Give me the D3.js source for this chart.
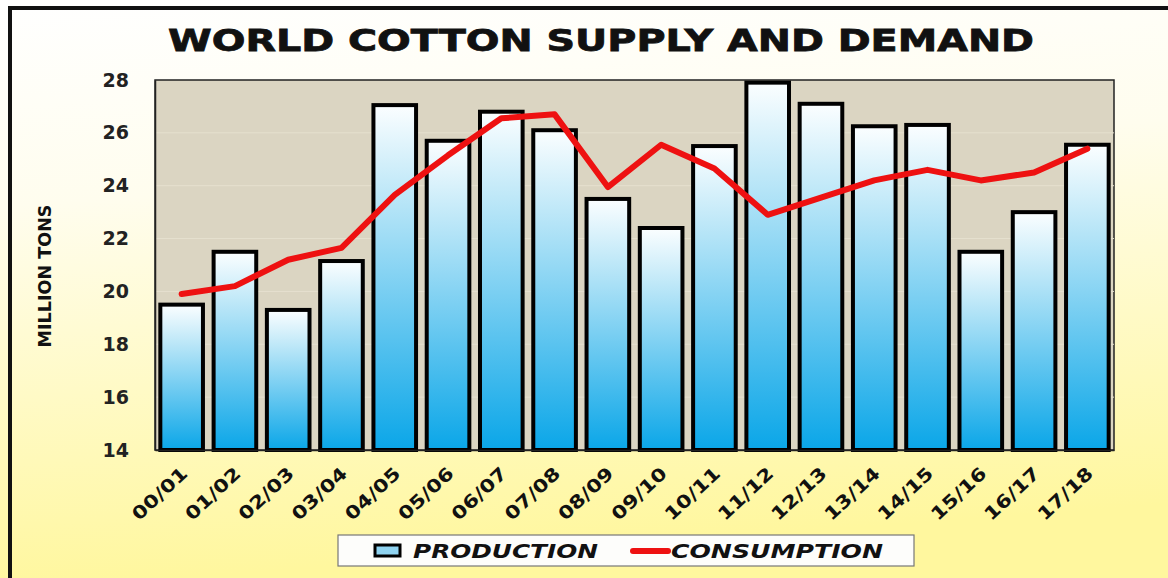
<!DOCTYPE html>
<html>
<head>
<meta charset="utf-8">
<script src="https://cdn.jsdelivr.net/npm/d3@7"></script>
<style>
  html, body { margin: 0; padding: 0; background: #fff; }
  svg { display: block; }
</style>
</head>
<body>
<div id="chart"></div>
<script>
const seasons = ['00/01', '01/02', '02/03', '03/04', '04/05', '05/06', '06/07', '07/08', '08/09',
  '09/10', '10/11', '11/12', '12/13', '13/14', '14/15', '15/16', '16/17', '17/18'];
const production = [19.5, 21.5, 19.3, 21.15, 27.05, 25.7, 26.8, 26.1, 23.5,
  22.4, 25.5, 27.9, 27.1, 26.25, 26.3, 21.5, 23.0, 25.55];
const consumption = [19.9, 20.2, 21.2, 21.65, 23.65, 25.15, 26.55, 26.7, 23.95,
  25.55, 24.65, 22.9, 23.55, 24.2, 24.6, 24.2, 24.5, 25.4];
const yTicks = [14, 16, 18, 20, 22, 24, 26, 28];

const width = 1168, height = 578;
const margin = {top: 80, right: 54, bottom: 128, left: 155};
const fontBold = 'DejaVu Sans, Verdana, sans-serif';

const svg = d3.select('#chart').append('svg')
  .attr('width', width)
  .attr('height', height);

const defs = svg.append('defs');

// page background: white at top fading into pale yellow
let bg = defs.append('linearGradient')
  .attr('id', 'bgGrad')
  .attr('x1', 0).attr('y1', 0).attr('x2', 0.15).attr('y2', 1);
bg.append('stop').attr('offset', '0%').attr('stop-color', '#ffffff');
bg.append('stop').attr('offset', '35%').attr('stop-color', '#fffdee');
bg.append('stop').attr('offset', '100%').attr('stop-color', '#fff79e');

let barGrad = defs.append('linearGradient')
  .attr('id', 'barGrad')
  .attr('x1', 0).attr('y1', 0).attr('x2', 0).attr('y2', 1);
barGrad.append('stop').attr('offset', '0%').attr('stop-color', '#fbfeff');
barGrad.append('stop').attr('offset', '25%').attr('stop-color', '#bfe8f8');
barGrad.append('stop').attr('offset', '100%').attr('stop-color', '#0aa6e8');

svg.append('rect')
  .attr('width', width).attr('height', height)
  .attr('fill', 'url(#bgGrad)');

// outer frame (only top and left visible in the picture)
svg.append('rect')
  .attr('x', 10).attr('y', 8)
  .attr('width', 1200).attr('height', 620)
  .attr('fill', 'none')
  .attr('stroke', '#111')
  .attr('stroke-width', 4);

const x = d3.scaleBand()
  .domain(seasons)
  .range([margin.left, width - margin.right])
  .paddingInner(0.2)
  .paddingOuter(0.1);

const y = d3.scaleLinear()
  .domain([14, 28])
  .range([height - margin.bottom, margin.top]);

const plotW = width - margin.right - margin.left;
const plotH = height - margin.bottom - margin.top;

// plot area
svg.append('rect')
  .attr('x', margin.left).attr('y', margin.top)
  .attr('width', plotW).attr('height', plotH)
  .attr('fill', '#dbd5c2')
  .attr('stroke', '#222')
  .attr('stroke-width', 1.5);

// faint gridlines
svg.append('g')
  .selectAll('line')
  .data(yTicks.slice(1, -1))
  .join('line')
  .attr('x1', margin.left).attr('x2', margin.left + plotW)
  .attr('y1', d => y(d)).attr('y2', d => y(d))
  .attr('stroke', '#e6e0cf')
  .attr('stroke-width', 1);

// bars
svg.append('g')
  .selectAll('rect')
  .data(production)
  .join('rect')
  .attr('x', (d, i) => x(seasons[i]))
  .attr('y', d => y(d))
  .attr('width', x.bandwidth())
  .attr('height', d => y(14) - y(d))
  .attr('fill', 'url(#barGrad)')
  .attr('stroke', '#000')
  .attr('stroke-width', 4);

// consumption line
let line = d3.line()
  .x((d, i) => x(seasons[i]) + x.bandwidth() / 2)
  .y(d => y(d));

svg.append('path')
  .datum(consumption)
  .attr('d', line)
  .attr('fill', 'none')
  .attr('stroke', '#ee1111')
  .attr('stroke-width', 6)
  .attr('stroke-linejoin', 'round')
  .attr('stroke-linecap', 'round');

// y axis
let yAxis = svg.append('g')
  .attr('transform', 'translate(' + margin.left + ',0)')
  .call(d3.axisLeft(y).tickValues(yTicks).tickSize(0).tickPadding(26));
yAxis.select('.domain').attr('stroke', '#222').attr('stroke-width', 1.5);
yAxis.selectAll('text')
  .attr('font-family', fontBold)
  .attr('font-weight', 'bold')
  .attr('font-size', 19)
  .attr('fill', '#222');

// x axis
let xAxis = svg.append('g')
  .attr('transform', 'translate(0,' + (height - margin.bottom) + ')')
  .call(d3.axisBottom(x).tickSize(0).tickPadding(0));
xAxis.select('.domain').attr('stroke', '#222').attr('stroke-width', 1.5);
xAxis.selectAll('text')
  .attr('font-family', fontBold)
  .attr('font-weight', 'bold')
  .attr('font-size', 18)
  .attr('textLength', 68)
  .attr('lengthAdjust', 'spacingAndGlyphs')
  .attr('fill', '#111')
  .attr('text-anchor', 'end')
  .attr('y', 0)
  .attr('dy', 0)
  .attr('transform', 'translate(7,25) rotate(-43)');

// y title
svg.append('text')
  .attr('transform', 'translate(51,276) rotate(-90)')
  .attr('text-anchor', 'middle')
  .attr('font-family', fontBold)
  .attr('font-weight', 'bold')
  .attr('font-size', 17)
  .attr('textLength', 143)
  .attr('lengthAdjust', 'spacingAndGlyphs')
  .attr('fill', '#111')
  .text('MILLION TONS');

// title
svg.append('text')
  .attr('x', 168).attr('y', 51)
  .attr('textLength', 866)
  .attr('lengthAdjust', 'spacingAndGlyphs')
  .attr('font-family', 'DejaVu Sans, sans-serif')
  .attr('font-weight', 'bold')
  .attr('font-size', 31)
  .attr('fill', '#111')
  .attr('stroke', '#111')
  .attr('stroke-width', 0.8)
  .text('WORLD COTTON SUPPLY AND DEMAND');

// legend
let legend = svg.append('g');
legend.append('rect')
  .attr('x', 338).attr('y', 535)
  .attr('width', 576).attr('height', 31)
  .attr('fill', '#fdfdfb')
  .attr('stroke', '#777')
  .attr('stroke-width', 1.2);
legend.append('rect')
  .attr('x', 375).attr('y', 545)
  .attr('width', 25).attr('height', 11)
  .attr('fill', '#8fd3f0')
  .attr('stroke', '#000')
  .attr('stroke-width', 3);
legend.append('text')
  .attr('x', 413).attr('y', 558)
  .attr('font-family', fontBold)
  .attr('font-weight', 'bold')
  .attr('font-style', 'italic')
  .attr('font-size', 20)
  .attr('textLength', 185)
  .attr('lengthAdjust', 'spacingAndGlyphs')
  .attr('fill', '#111')
  .text('PRODUCTION');
legend.append('line')
  .attr('x1', 633).attr('x2', 668)
  .attr('y1', 551).attr('y2', 551)
  .attr('stroke', '#ee1111')
  .attr('stroke-width', 6)
  .attr('stroke-linecap', 'round');
legend.append('text')
  .attr('x', 671).attr('y', 558)
  .attr('font-family', fontBold)
  .attr('font-weight', 'bold')
  .attr('font-style', 'italic')
  .attr('font-size', 20)
  .attr('textLength', 212)
  .attr('lengthAdjust', 'spacingAndGlyphs')
  .attr('fill', '#111')
  .text('CONSUMPTION');
</script>
</body>
</html>
